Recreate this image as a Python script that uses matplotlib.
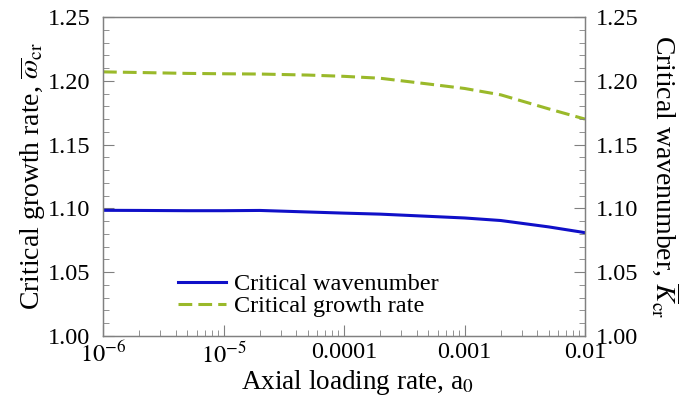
import matplotlib
matplotlib.use("Agg")
import matplotlib.pyplot as plt
from matplotlib.ticker import MultipleLocator, LogLocator, NullFormatter

plt.rcParams['font.family'] = ['Liberation Serif', 'DejaVu Serif']
plt.rcParams['mathtext.fontset'] = 'stix'

a0 = [1e-6, 2e-6, 5e-6, 1e-5, 2e-5, 5e-5, 1e-4, 2e-4, 5e-4, 1e-3, 2e-3, 5e-3, 1e-2]
wavenumber = [1.0985, 1.0984, 1.0982, 1.0982, 1.0984, 1.0972, 1.0963, 1.0955,
              1.0938, 1.0925, 1.0905, 1.0855, 1.0810]
growth_rate = [1.2070, 1.2065, 1.2058, 1.2055, 1.2053, 1.2045, 1.2035, 1.2020,
               1.1975, 1.1940, 1.1890, 1.1780, 1.1700]
xticks = [1e-6, 1e-5, 1e-4, 1e-3, 1e-2]
xticklabels = [r'$10^{-6}$', r'$10^{-5}$', '0.0001', '0.001', '0.01']
yticks = [1.00, 1.05, 1.10, 1.15, 1.20, 1.25]

fig = plt.figure(figsize=(6.82, 4.07), dpi=100)
ax = fig.add_axes([103/682, 1-336/407, (585-103)/682, (336-17)/407])

ax.plot(a0, wavenumber, color='#1010c8', lw=2.2, label='Critical wavenumber')
ax.plot(a0, growth_rate, color='#9ab92a', lw=2.2, ls=(0, (4.5, 2)), label='Critical growth rate')

ax.set_xscale('log')
ax.set_xlim(1e-6, 1e-2)
ax.set_ylim(1.0, 1.25)
ax.set_xticks(xticks)
ax.set_xticklabels(xticklabels)
ax.xaxis.set_minor_locator(LogLocator(base=10, subs=range(2, 10)))
ax.xaxis.set_minor_formatter(NullFormatter())
ax.set_yticks(yticks)
ax.set_yticklabels([f'{v:.2f}' for v in yticks])
ax.yaxis.set_minor_locator(MultipleLocator(0.01))

gray = '#808080'
for s in ax.spines.values():
    s.set_color(gray)
    s.set_linewidth(1.0)
ax.tick_params(which='both', direction='in', colors=gray, labelcolor='black',
               labelsize=17.5, right=True, top=False)
ax.tick_params(which='major', length=8)
ax.tick_params(which='minor', length=4)
ax.tick_params(axis='y', pad=9)
ax.tick_params(axis='x', pad=4)

ax.set_xlabel(r'Axial loading rate, a$_0$', fontsize=19.5)
ax.xaxis.set_label_coords(0.529, -0.1)
ax.set_ylabel(r'Critical growth rate, $\overline{\omega}_{\rm cr}$', fontsize=20, va='center')
ax.yaxis.set_label_coords(-0.147, 0.5)

ax2 = ax.twinx()
ax2.set_ylim(1.0, 1.25)
ax2.set_yticks(yticks)
ax2.set_yticklabels([f'{v:.2f}' for v in yticks])
ax2.yaxis.set_minor_locator(MultipleLocator(0.01))
ax2.tick_params(which='both', direction='in', colors=gray, labelcolor='black', labelsize=17.5, pad=8)
ax2.tick_params(which='major', length=8)
ax2.tick_params(which='minor', length=4)
for s in ax2.spines.values():
    s.set_color(gray)
ax2.set_ylabel(r'Critical wavenumber, $\overline{K}_{\rm cr}$', fontsize=20, rotation=270, va='center')
ax2.yaxis.set_label_coords(1.166, 0.5)

leg = ax.legend(loc='lower left', bbox_to_anchor=(0.13, 0.02), frameon=False, fontsize=17.5,
                handlelength=2.0, handletextpad=0.3, labelspacing=0.0, borderpad=0)

fig.savefig('out.png', dpi=100)
